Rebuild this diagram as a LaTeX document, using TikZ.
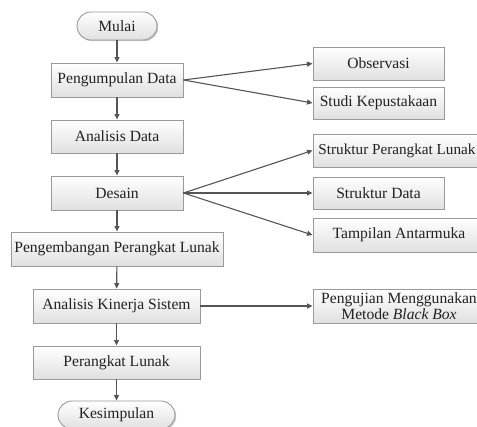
\documentclass[tikz,border=0pt]{standalone}
\usepackage{fontspec}
\setmainfont{Liberation Serif}
\usetikzlibrary{arrows.meta,shadows}
\definecolor{edgegray}{HTML}{9A9A9A}
\definecolor{arrowgray}{HTML}{555555}
\definecolor{txt}{HTML}{222222}
\tikzset{
  box/.style={draw=edgegray, line width=0.9pt, top color=white, bottom color=black!12,
    inner sep=0pt, text=txt, align=center,
    font=\fontsize{15.6}{15.5}\selectfont,
    drop shadow={opacity=0.22, shadow xshift=1.2pt, shadow yshift=-1.2pt, fill=black}},
  term/.style={box, rounded corners=14pt},
  conn/.style={draw=arrowgray, line width=1.1pt, -{Triangle[width=5pt,length=5.5pt]}},
}
\begin{document}
\begin{tikzpicture}[x=1pt,y=-1pt]
\useasboundingbox (0,0) rectangle (477,427);
\clip (0,0) rectangle (477,427);
% left column
\node[term, minimum width=80pt, minimum height=28pt] (mulai) at (117,26) {Mulai};
\node[box, minimum width=132pt, minimum height=34pt] (peng) at (117,80) {Pengumpulan Data};
\node[box, minimum width=132pt, minimum height=33pt] (anal) at (117,136.5) {Analisis Data};
\node[box, minimum width=132pt, minimum height=34pt] (desain) at (117,193) {Desain};
\node[box, minimum width=212pt, minimum height=34pt] (pengem) at (117,249) {Pengembangan Perangkat Lunak};
\node[box, minimum width=167pt, minimum height=34pt] (kinerja) at (116.5,306) {Analisis Kinerja Sistem};
\node[box, minimum width=167pt, minimum height=33pt] (pl) at (116.5,362.5) {Perangkat Lunak};
\node[term, minimum width=117pt, minimum height=28pt] (kes) at (116.5,415) {Kesimpulan};
% right column
\node[box, minimum width=131pt, minimum height=33pt] (obs) at (378.5,63.5) {Observasi};
\node[box, minimum width=131pt, minimum height=32pt] (studi) at (378.5,103) {Studi Kepustakaan};
\node[box, minimum width=168pt, minimum height=33pt, font=\fontsize{15.2}{15.5}\selectfont] (spl) at (397,150.5) {Struktur Perangkat Lunak};
\node[box, minimum width=131pt, minimum height=32pt] (sd) at (378.5,193) {Struktur Data};
\node[box, minimum width=172pt, minimum height=34pt] (tam) at (399,235) {Tampilan Antarmuka};
\node[box, minimum width=172pt, minimum height=34pt] (uji) at (399,306) {Pengujian Menggunakan\\Metode \textit{Black Box}};
% vertical flow
\draw[conn] (mulai) -- (peng);
\draw[conn] (peng) -- (anal);
\draw[conn] (anal) -- (desain);
\draw[conn] (desain) -- (pengem);
\draw[conn] (pengem) -- (kinerja);
\draw[conn] (kinerja) -- (pl);
\draw[conn] (pl) -- (kes);
% branches
\draw[conn] (peng.east) -- (obs.west);
\draw[conn] (peng.east) -- (studi.west);
\draw[conn] (desain.east) -- (spl.west);
\draw[conn] (desain.east) -- (sd.west);
\draw[conn] (desain.east) -- (tam.west);
\draw[conn] (kinerja.east) -- (uji.west);
\end{tikzpicture}
\end{document}
